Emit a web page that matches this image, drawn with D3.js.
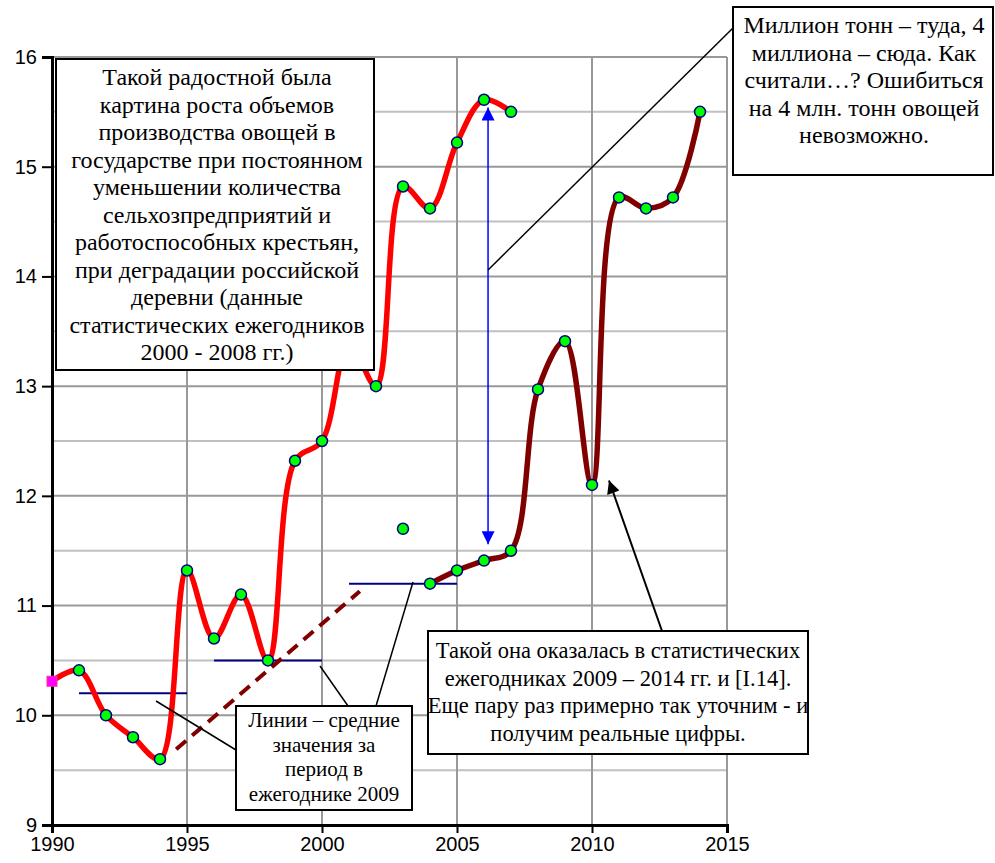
<!DOCTYPE html>
<html>
<head>
<meta charset="utf-8">
<script src="https://cdn.jsdelivr.net/npm/d3@7"></script>
<style>
  body { margin: 0; background: #fff; }
  svg { display: block; }
  .ann { font-family: "Liberation Serif", "Times New Roman", serif; fill: #000; }
  .tick text { font-family: "Liberation Sans", Arial, sans-serif; font-size: 20px; fill: #000; }
</style>
</head>
<body>
<div id="chart"></div>
<script>
// data (млн. тонн)
var oldYears = [1990, 1991, 1992, 1993, 1994, 1995, 1996, 1997, 1998, 1999, 2000, 2001, 2002, 2003, 2004, 2005, 2006, 2007];
var oldValues = [10.31, 10.41, 10.0, 9.8, 9.6, 11.32, 10.7, 11.1, 10.5, 12.32, 12.5, 13.4, 13.0, 14.82, 14.62, 15.22, 15.61, 15.5];
var newYears = [2004, 2005, 2006, 2007, 2008, 2009, 2010, 2011, 2012, 2013, 2014];
var newValues = [11.2, 11.32, 11.41, 11.5, 12.97, 13.41, 12.1, 14.72, 14.62, 14.72, 15.5];
var loneYear = 2003, loneValue = 11.7;
var meanFrom = [1991, 1996, 2001];
var meanTo = [1995, 2000, 2005];
var meanValues = [10.2, 10.5, 11.2];
var trendYears = [1994.6, 2001.4];
var trendValues = [9.69, 11.13];
var xTicks = [1990, 1995, 2000, 2005, 2010, 2015];
var yTicks = [9, 10, 11, 12, 13, 14, 15, 16];

var W = 995, H = 863;
var margin = {top: 57, right: 268, bottom: 38, left: 52};

var svg = d3.select("#chart").append("svg")
    .attr("width", W)
    .attr("height", H);

var defs = svg.append("defs");
function head(id, color) {
  defs.append("marker")
    .attr("id", id)
    .attr("viewBox", "0 0 10 10")
    .attr("refX", 10).attr("refY", 5)
    .attr("markerUnits", "userSpaceOnUse")
    .attr("markerWidth", 15).attr("markerHeight", 13)
    .attr("orient", "auto-start-reverse")
    .append("path")
    .attr("d", "M0,0L10,5L0,10Z")
    .attr("fill", color);
}
head("blueHead", "#0000ff");
head("blackHead", "#000");

var x = d3.scaleLinear().domain([1990, 2015]).range([margin.left, W - margin.right]);
var y = d3.scaleLinear().domain([9, 16]).range([H - margin.bottom, margin.top]);

// grid
var minor = d3.range(9.5, 16, 1);
svg.append("g").selectAll("line").data(minor).enter().append("line")
  .attr("x1", x(1990)).attr("x2", x(2015))
  .attr("y1", function(d) { return y(d); }).attr("y2", function(d) { return y(d); })
  .attr("stroke", "#c0c0c0").attr("stroke-width", 2);
svg.append("g").selectAll("line").data(yTicks.slice(1)).enter().append("line")
  .attr("x1", x(1990)).attr("x2", x(2015))
  .attr("y1", function(d) { return y(d); }).attr("y2", function(d) { return y(d); })
  .attr("stroke", "#999").attr("stroke-width", 2);
svg.append("g").selectAll("line").data(xTicks.slice(1)).enter().append("line")
  .attr("x1", function(d) { return x(d); }).attr("x2", function(d) { return x(d); })
  .attr("y1", y(9)).attr("y2", y(16))
  .attr("stroke", "#999").attr("stroke-width", 2);

// axes
var xAxis = d3.axisBottom(x).tickValues(xTicks).tickFormat(d3.format("d")).tickSize(8).tickPadding(4);
var yAxis = d3.axisLeft(y).tickValues(yTicks).tickFormat(d3.format("d")).tickSize(10).tickPadding(5);
svg.append("g")
  .attr("transform", "translate(0," + y(9) + ")")
  .call(xAxis)
  .call(function(g) { g.select(".domain").attr("stroke-width", 3); g.selectAll(".tick line").attr("stroke-width", 2); });
svg.append("g")
  .attr("transform", "translate(" + x(1990) + ",0)")
  .call(yAxis)
  .call(function(g) { g.select(".domain").attr("stroke-width", 3); g.selectAll(".tick line").attr("stroke-width", 2); });

// mean lines and trend
svg.append("g").selectAll("line").data(meanValues).enter().append("line")
  .attr("x1", function(d, i) { return x(meanFrom[i]); })
  .attr("x2", function(d, i) { return x(meanTo[i]); })
  .attr("y1", function(d) { return y(d); }).attr("y2", function(d) { return y(d); })
  .attr("stroke", "#000080").attr("stroke-width", 2);

svg.append("line")
  .attr("x1", x(trendYears[0])).attr("y1", y(trendValues[0]))
  .attr("x2", x(trendYears[1])).attr("y2", y(trendValues[1]))
  .attr("stroke", "#800000").attr("stroke-width", 4)
  .attr("stroke-dasharray", "13,8");

// series lines (smoothed like the spreadsheet)
var line = d3.line()
  .x(function(d) { return x(d[0]); })
  .y(function(d) { return y(d[1]); })
  .curve(d3.curveCatmullRom.alpha(0.5));

var oldData = oldYears.map(function(d, i) { return [d, oldValues[i]]; });
var newData = newYears.map(function(d, i) { return [d, newValues[i]]; });

svg.append("path").datum(oldData).attr("d", line)
  .attr("fill", "none").attr("stroke", "#ff0000").attr("stroke-width", 5.5)
  .attr("stroke-linejoin", "round");
svg.append("path").datum(newData).attr("d", line)
  .attr("fill", "none").attr("stroke", "#800000").attr("stroke-width", 5.5)
  .attr("stroke-linejoin", "round");

// markers
var pts = oldData.slice(1).concat(newData).concat([[loneYear, loneValue]]);
svg.append("g").selectAll("circle").data(pts).enter().append("circle")
  .attr("cx", function(d) { return x(d[0]); })
  .attr("cy", function(d) { return y(d[1]); })
  .attr("r", 5.5)
  .attr("fill", "#00ff00").attr("stroke", "#000080").attr("stroke-width", 1.5);
svg.append("rect")
  .attr("x", x(oldData[0][0]) - 5).attr("y", y(oldData[0][1]) - 5)
  .attr("width", 10).attr("height", 10)
  .attr("fill", "#ff00ff").attr("stroke", "#ff3399").attr("stroke-width", 1);

// blue double arrow between the two 2006 values
svg.append("line")
  .attr("x1", x(2006.15)).attr("y1", y(15.54))
  .attr("x2", x(2006.15)).attr("y2", y(11.56))
  .attr("stroke", "#0000ff").attr("stroke-width", 1.5)
  .attr("marker-start", "url(#blueHead)")
  .attr("marker-end", "url(#blueHead)");

// connector lines
function conn(x1, y1, x2, y2) {
  return svg.append("line").attr("x1", x1).attr("y1", y1).attr("x2", x2).attr("y2", y2)
    .attr("stroke", "#000").attr("stroke-width", 1.5);
}
conn(733, 28, x(2006.15), 270);
conn(236, 750, 156, 701);
conn(320, 666, 348, 706);
conn(376, 706, 413, 582);
conn(662, 631, x(2010.63), y(12.14)).attr("stroke-width", 2).attr("marker-end", "url(#blackHead)");

// text boxes
function box(x0, y0, w, h, cx, base, step, size, lines) {
  svg.append("rect").attr("x", x0).attr("y", y0).attr("width", w).attr("height", h)
    .attr("fill", "#fff").attr("stroke", "#000").attr("stroke-width", 2);
  var t = svg.append("text").attr("class", "ann").attr("text-anchor", "middle")
    .style("font-size", size + "px");
  lines.forEach(function(s, i) {
    t.append("tspan").attr("x", cx).attr("y", base + i * step).text(s);
  });
}
box(56, 59, 318, 311, 217, 85, 27.5, 24, [
  "Такой радостной была",
  "картина роста объемов",
  "производства овощей в",
  "государстве при постоянном",
  "уменьшении количества",
  "сельхозпредприятий и",
  "работоспособных крестьян,",
  "при деградации российской",
  "деревни (данные",
  "статистических ежегодников",
  "2000 -  2008 гг.)"
]);
box(733, 7, 260, 168, 864, 33, 27.5, 24, [
  "Миллион тонн – туда, 4",
  "миллиона – сюда. Как",
  "считали…? Ошибиться",
  "на 4 млн. тонн овощей",
  "невозможно."
]);
box(428, 631, 380, 123, 618, 658, 27.5, 22.5, [
  "Такой она оказалась в статистических",
  "ежегодниках 2009 – 2014 гг. и [I.14].",
  "Еще пару раз примерно так уточним - и",
  "получим реальные цифры."
]);
box(236, 706, 176, 104, 324, 727, 24.7, 21, [
  "Линии – средние",
  "значения за",
  "период в",
  "ежегоднике 2009"
]);
</script>
</body>
</html>
